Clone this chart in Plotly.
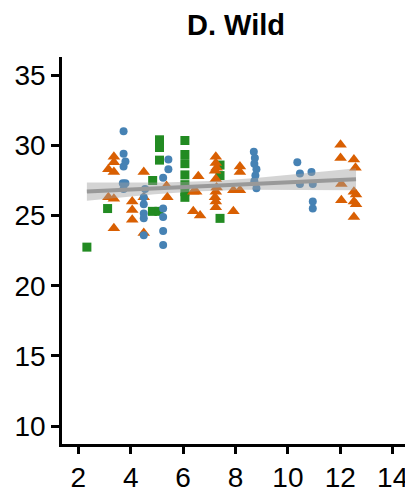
import numpy as np
import plotly.graph_objects as go

# --- data ---
blue_x = [3.73, 3.73, 3.80, 3.73, 3.70, 3.80, 3.73,
          4.55, 4.50, 4.50, 4.50, 4.50, 4.50,
          5.44, 5.44, 5.24, 5.24, 5.24, 5.24, 5.24,
          8.70, 8.74, 8.72, 8.80, 8.76, 8.72, 8.80,
          10.36, 10.46, 10.46, 10.90, 10.95, 10.95, 10.95]
blue_y = [31.0, 29.4, 28.85, 28.5, 27.3, 27.3, 26.9,
          26.9, 26.3, 25.8, 25.15, 24.8, 23.6,
          29.0, 28.3, 27.7, 25.5, 24.9, 23.9, 22.9,
          29.55, 29.1, 28.7, 28.3, 27.85, 27.45, 26.95,
          28.8, 28.0, 27.25, 28.1, 27.25, 26.0, 25.5]

orange_x = [3.36, 3.36, 3.15, 3.36, 3.15, 3.36, 3.36,
            4.06, 4.06, 4.06,
            4.50, 4.50, 4.50,
            5.37, 5.40,
            6.58, 6.50, 6.39, 6.39, 6.65,
            7.25, 7.25, 7.28, 7.22, 7.25, 7.28, 7.25, 7.22, 7.25, 7.25,
            8.17, 8.17, 7.92, 8.17, 7.92,
            12.01, 12.01, 12.04, 12.04,
            12.52, 12.58, 12.52, 12.60, 12.52, 12.60, 12.52]
orange_y = [29.2, 28.8, 28.3, 28.1, 26.3, 26.2, 24.1,
            26.0, 25.4, 24.7,
            28.1, 26.3, 23.75,
            27.1, 26.3,
            27.8, 26.7, 26.7, 25.3, 25.0,
            29.2, 28.75, 28.4, 28.2, 27.6, 27.0, 26.7, 26.3, 26.0, 25.6,
            28.5, 28.1, 26.8, 26.8, 25.3,
            30.05, 29.1, 27.25, 26.1,
            29.0, 28.4, 26.7, 26.5, 26.0, 25.8, 24.9]

green_x = [2.33, 3.12, 4.84, 4.83, 5.08,
           5.10, 5.10, 5.10,
           6.07, 6.07, 6.07, 6.07, 6.07, 6.07, 6.07,
           7.41, 7.41, 7.41]
green_y = [22.75, 25.5, 27.5, 25.3, 25.3,
           30.4, 29.85, 28.95,
           30.35, 29.35, 28.7, 27.9, 27.2, 26.7, 26.3,
           28.6, 27.85, 24.8]

x_ticks = [2, 4, 6, 8, 10, 12, 14]
y_ticks = [10, 15, 20, 25, 30, 35]

# --- linear fit with 95% confidence band over all points ---
ax = np.array(blue_x + orange_x + green_x)
ay = np.array(blue_y + orange_y + green_y)
n = len(ax)
slope, intercept = np.polyfit(ax, ay, 1)
resid = ay - (slope * ax + intercept)
s = np.sqrt(np.sum(resid ** 2) / (n - 2))
xm = ax.mean()
sxx = np.sum((ax - xm) ** 2)
xs = np.linspace(ax.min(), ax.max(), 100)
ys = slope * xs + intercept
se = s * np.sqrt(1 / n + (xs - xm) ** 2 / sxx)
lo, hi = ys - 1.99 * se, ys + 1.99 * se

fig = go.Figure()
fig.add_trace(go.Scatter(x=green_x, y=green_y, mode="markers",
                         marker=dict(symbol="square", size=9, color="#228B22"),
                         showlegend=False))
fig.add_trace(go.Scatter(x=orange_x, y=orange_y, mode="markers",
                         marker=dict(symbol="triangle-up", size=11, color="#D95F02"),
                         showlegend=False))
fig.add_trace(go.Scatter(x=blue_x, y=blue_y, mode="markers",
                         marker=dict(symbol="circle", size=8, color="#4682B4"),
                         showlegend=False))
fig.add_trace(go.Scatter(x=np.concatenate([xs, xs[::-1]]),
                         y=np.concatenate([hi, lo[::-1]]),
                         fill="toself", fillcolor="rgba(160,160,160,0.45)",
                         line=dict(width=0), mode="lines", showlegend=False,
                         hoverinfo="skip"))
fig.add_trace(go.Scatter(x=xs, y=ys, mode="lines",
                         line=dict(color="#999999", width=4), showlegend=False))

axis_font = dict(family="Liberation Sans, Arial, sans-serif", size=28, color="black")
fig.update_layout(
    width=405, height=488,
    margin=dict(l=54, r=3, t=49, b=44),
    paper_bgcolor="white", plot_bgcolor="white",
    title=dict(text="<b>D. Wild</b>", x=0.5, xref="paper", xanchor="center",
               y=0.965, yanchor="middle", yref="container",
               font=dict(family="Liberation Sans, Arial, sans-serif", size=29, color="black")),
    xaxis=dict(range=[1.38, 14.66], tickvals=x_ticks, showgrid=False, zeroline=False,
               showline=True, linecolor="black", linewidth=2.5,
               ticks="outside", ticklen=7, tickwidth=2.5, tickcolor="black",
               tickfont=axis_font),
    yaxis=dict(range=[8.72, 36.3], tickvals=y_ticks, showgrid=False, zeroline=False,
               showline=True, linecolor="black", linewidth=2.5,
               ticks="outside", ticklen=8, tickwidth=2.5, tickcolor="black",
               tickfont=axis_font),
)
fig.write_html("out.html")
